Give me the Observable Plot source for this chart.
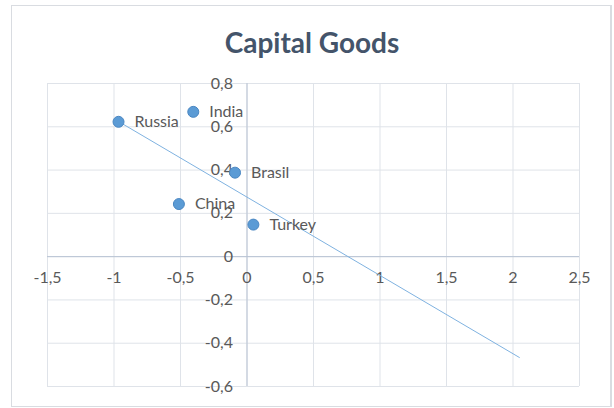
<!DOCTYPE html>
<html><head><meta charset="utf-8">
<script src="https://cdn.jsdelivr.net/npm/d3@7"></script>
<script src="https://cdn.jsdelivr.net/npm/@observablehq/plot@0.6"></script>
<style>
body{margin:0;background:#fff;}
#wrap{position:relative;width:614px;height:408px;overflow:hidden;}
#frame{position:absolute;left:11px;top:5px;width:598px;height:400px;border:1px solid #d9dce1;border-right-width:2px;}
#title{position:absolute;left:0;width:624px;top:25px;line-height:34px;text-align:center;font-family:Lato,sans-serif;font-weight:bold;font-size:28px;color:#44546a;}
#chart{position:absolute;left:0;top:0;}
</style></head>
<body>
<div id="wrap"><div id="frame"></div><div id="title">Capital Goods</div><div id="chart"></div></div>
<script>
const countries = ["Russia", "India", "Brasil", "China", "Turkey"];
const xValues = [-0.966, -0.404, -0.09, -0.512, 0.048];
const yValues = [0.623, 0.669, 0.388, 0.243, 0.148];
const xTicks = [-1.5, -1, -0.5, 0, 0.5, 1, 1.5, 2, 2.5];
const yTicks = [-0.6, -0.4, -0.2, 0, 0.2, 0.4, 0.6, 0.8];
const trendForward = 2;

const points = countries.map((c, i) => ({name: c, x: xValues[i], y: yValues[i]}));
const fmt = v => String(v).replace(".", ",");

// linear regression trendline (Excel-style, forecast forward)
const mx = d3.mean(xValues), my = d3.mean(yValues);
const sxy = d3.sum(xValues, (x, i) => (x - mx) * (yValues[i] - my));
const sxx = d3.sum(xValues, x => (x - mx) ** 2);
const slope = sxy / sxx, icpt = my - slope * mx;
const x0 = d3.min(xValues), x1 = d3.max(xValues) + trendForward;
const trend = [{x: x0, y: icpt + slope * x0}, {x: x1, y: icpt + slope * x1}];

const tickColor = "#595959";
const plot = Plot.plot({
  width: 614, height: 408,
  marginLeft: 47, marginRight: 35, marginTop: 83, marginBottom: 22,
  x: {domain: [-1.5, 2.5], axis: null},
  y: {domain: [-0.6, 0.8], axis: null},
  style: {fontFamily: "Lato, sans-serif", background: "transparent"},
  marks: [
    Plot.ruleX(xTicks, {stroke: "#dfe3e9", strokeWidth: 1}),
    Plot.ruleY(yTicks, {stroke: "#dfe3e9", strokeWidth: 1}),
    Plot.ruleX([0], {stroke: "#b9c3d3", strokeWidth: 1}),
    Plot.ruleY([0], {stroke: "#b9c3d3", strokeWidth: 1}),
    Plot.text(xTicks, {x: d => d, y: 0, text: d => fmt(d), dy: 21, fill: tickColor, fontSize: 16}),
    Plot.text(yTicks, {x: 0, y: d => d, text: d => fmt(d), textAnchor: "end", dx: -14, fill: tickColor, fontSize: 16}),
    Plot.line(trend, {x: "x", y: "y", stroke: "#7fb2e0", strokeWidth: 1}),
    Plot.dot(points, {x: "x", y: "y", r: 5.5, fill: "#5b9bd5", stroke: "#4a87c2", strokeWidth: 1}),
    Plot.text(points, {x: "x", y: "y", text: "name", textAnchor: "start", dx: 16, fill: tickColor, fontSize: 16})
  ]
});
document.getElementById("chart").appendChild(plot);
</script>
</body></html>
